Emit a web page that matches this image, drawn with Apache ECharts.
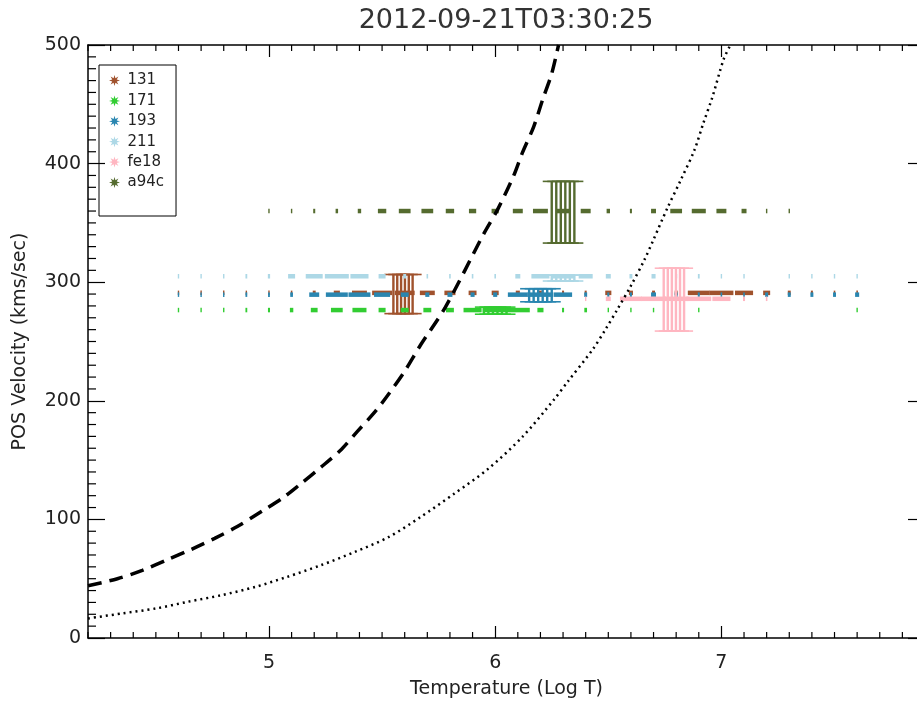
<!DOCTYPE html>
<html>
<head>
<meta charset="utf-8">
<script src="https://cdn.jsdelivr.net/npm/echarts@6/dist/echarts.min.js"></script>
<style>
html,body{margin:0;padding:0;background:#fff;}
#chart{width:917px;height:705px;}
</style>
</head>
<body>
<div id="chart"></div>
<script>
const channels = ["131", "171", "193", "211", "fe18", "a94c"]
const channelVel = [291, 276.5, 289.5, 305, 286, 360]
const channelColors = ["#a0522d", "#32cd32", "#2a86b0", "#add8e6", "#ffb6c1", "#556b2f"]

// temperature bins the marks sit on
const tempGrid = [4.6, 4.7, 4.8, 4.9, 5.0, 5.1, 5.2, 5.3, 5.4, 5.5,
                  5.6, 5.7, 5.8, 5.9, 6.0, 6.1, 6.2, 6.3, 6.4, 6.5,
                  6.6, 6.7, 6.8, 6.9, 7.0, 7.1, 7.2, 7.3, 7.4, 7.5, 7.6]

// share of each bin covered by the mark
const wt131 = [0.04,0.04,0.04,0.04,0.04,0.07,0.13,0.27,0.66,0.88,
               0.88,0.66,0.49,0.35,0.31,0.18,0.13,0.09,0.09,0.27,
               0.18,0.13,0.13,0.97,1.06,0.8,0.31,0.13,0.09,0.07,0.07]
const wt171 = [0.04,0.04,0.04,0.08,0.09,0.15,0.3,0.52,0.62,0.31,
               0.35,0.35,0.35,0.8,1.1,1.06,0.27,0.09,0.12,0.04,
               0.04,0.04,0.04,0.04,null,null,null,null,null,null,0.04]
const wt193 = [0.04,0.04,0.04,0.08,0.08,0.12,0.44,0.97,0.97,0.71,
               0.35,0.18,0.22,0.18,0.18,0.88,1.15,0.8,0.13,0.09,
               0.09,0.22,0.13,0.09,0.07,0.07,0.13,0.13,0.13,0.13,0.18]
const wt211 = [0.04,0.04,0.04,0.08,0.1,0.31,0.75,1.06,0.8,0.31,
               0.13,0.07,0.07,0.07,0.07,0.22,0.8,1.06,0.62,0.22,
               0.13,0.18,0.09,0.08,0.04,0.04,null,0.04,0.04,0.04,0.04]
const wtfe18 = [null,null,null,null,null,null,null,null,null,null,
                null,null,null,null,null,null,null,null,0.04,0.22,
                0.97,1.1,1.1,1.1,0.8,0.09,0.07,null,null,null,null]
const wta94c = [null,null,null,null,0.06,0.06,0.09,0.11,0.15,0.37,
                0.52,0.52,0.37,0.32,0.32,0.44,0.66,0.58,0.44,0.15,
                0.09,0.22,0.52,0.62,0.44,0.22,0.06,0.06,null,null,null]

// error bars
const ebT131 = [5.55, 5.567, 5.584, 5.601, 5.618, 5.635]
const ebT171 = [5.95, 5.97, 5.99, 6.01, 6.03, 6.05]
const ebT193 = [6.15, 6.17, 6.19, 6.21, 6.23, 6.25]
const ebT211 = [6.25, 6.27, 6.29, 6.31, 6.33, 6.35]
const ebTfe18 = [6.745, 6.763, 6.781, 6.799, 6.817, 6.835]
const ebTa94c = [6.25, 6.27, 6.29, 6.31, 6.33, 6.35]
const ebMid = [290, 276, 289, 303.5, 285.3, 359]
const ebErr = [16.5, 3, 5.5, 2.5, 26.5, 26]

// black curves
const dashT = [4.20, 4.33, 4.44, 4.55, 4.66, 4.76, 4.86, 4.97, 5.06, 5.14, 5.23, 5.32, 5.39,
               5.47, 5.53, 5.60, 5.67, 5.78, 5.95, 6.01, 6.08, 6.12, 6.17, 6.21, 6.25, 6.28]
const dashV = [44, 50, 57, 66, 75, 84, 94, 107, 118, 130, 144, 159, 174,
               191, 206, 225, 247, 279, 341, 361, 389, 409, 431, 454, 476, 500]
const dotT = [4.20, 4.35, 4.50, 4.64, 4.79, 4.94, 5.08, 5.23, 5.38, 5.53, 5.67, 5.82, 5.97, 6.12,
              6.26, 6.32, 6.43, 6.49, 6.54, 6.60, 6.66, 6.70, 6.76, 6.82, 6.88, 6.92, 6.96, 7.01, 7.04]
const dotV = [16.5, 20.7, 24.9, 30.5, 36.1, 43.1, 51.5, 61.4, 72.6, 85.2, 102, 121.8, 142.8, 169.5,
              201, 216, 243, 261, 277, 297, 319, 336, 362, 386, 411, 434, 456, 488, 500]

const xMajor = [5, 6, 7]
const yMajor = [0, 100, 200, 300, 400, 500]

const weights = [wt131, wt171, wt193, wt211, wtfe18, wta94c]
const ebT = [ebT131, ebT171, ebT193, ebT211, ebTfe18, ebTa94c]

const font = "DejaVu Sans"
const starIcon = "path://M100,50L70.3,41.6L85.4,14.6L58.4,29.7L50,0L41.6,29.7L14.6,14.6L29.7,41.6L0,50L29.7,58.4L14.6,85.4L41.6,70.3L50,100L58.4,70.3L85.4,85.4L70.3,58.4Z"

// tick slots: every 0.1 on x, every 10 on y
let xCats = []
for (let i = 0; i <= 37; i++) xCats.push((4.2 + i * 0.1).toFixed(1))
let yCats = []
for (let i = 0; i <= 50; i++) yCats.push(String(i * 10))
function isXMajor(index, value) { return xMajor.indexOf(Number(value)) >= 0 }
function isYMajor(index, value) { return yMajor.indexOf(Number(value)) >= 0 }

// minor ticks as [value, 0 = x axis / 1 = y axis]
let minorTicks = []
xCats.forEach(function (c) { if (!isXMajor(0, c)) minorTicks.push([Number(c), 0]) })
yCats.forEach(function (c) { if (!isYMajor(0, c)) minorTicks.push([Number(c), 1]) })

function tickItem(params, api) {
    const v = api.value(0)
    const st = { stroke: "#000", lineWidth: 1.2 }
    if (api.value(1) === 0) {
        const b = api.coord([v, 0]), t = api.coord([v, 500])
        return { type: "group", children: [
            { type: "line", shape: { x1: b[0], y1: b[1], x2: b[0], y2: b[1] - 6 }, style: st },
            { type: "line", shape: { x1: t[0], y1: t[1], x2: t[0], y2: t[1] + 6 }, style: st }
        ] }
    }
    const l = api.coord([4.2, v]), r = api.coord([7.9, v])
    return { type: "group", children: [
        { type: "line", shape: { x1: l[0], y1: l[1], x2: l[0] + 8, y2: l[1] }, style: st },
        { type: "line", shape: { x1: r[0], y1: r[1], x2: r[0] - 8, y2: r[1] }, style: st }
    ] }
}

function markItem(params, api) {
    const t = api.value(0), v = api.value(1), w = api.value(2)
    const a = api.coord([t - w * 0.05, v])
    const b = api.coord([t + w * 0.05, v])
    const wid = Math.max(b[0] - a[0], 1.4)
    const cx = (a[0] + b[0]) / 2
    return {
        type: "rect",
        shape: { x: cx - wid / 2, y: a[1] - 2.25, width: wid, height: 4.5 },
        style: { fill: api.visual("color") }
    }
}

function errItem(params, api) {
    const t = api.value(0), mid = api.value(1), err = api.value(2)
    const top = api.coord([t, mid + err])
    const bot = api.coord([t, mid - err])
    const col = api.visual("color")
    return {
        type: "group",
        children: [
            { type: "line", shape: { x1: top[0], y1: top[1], x2: bot[0], y2: bot[1] }, style: { stroke: col, lineWidth: 2.4 } },
            { type: "line", shape: { x1: top[0] - 9, y1: top[1], x2: top[0] + 9, y2: top[1] }, style: { stroke: col, lineWidth: 1.6 } },
            { type: "line", shape: { x1: bot[0] - 9, y1: bot[1], x2: bot[0] + 9, y2: bot[1] }, style: { stroke: col, lineWidth: 1.6 } }
        ]
    }
}

// minor ticks first, the way they rendered in the test page
let series = [{
    type: "custom", renderItem: tickItem, data: minorTicks, clip: false, silent: true,
    encode: { x: 0, y: -1 }, z: 5
}]
channels.forEach(function (ch, i) {
    let marks = []
    weights[i].forEach(function (w, k) {
        if (w !== null) marks.push([tempGrid[k], channelVel[i], w])
    })
    series.push({
        name: ch, type: "custom", renderItem: markItem, data: marks,
        encode: { x: 0, y: 1 }, itemStyle: { color: channelColors[i] }, clip: true, silent: true
    })
    series.push({
        name: ch, type: "custom", renderItem: errItem,
        data: ebT[i].map(function (t) { return [t, ebMid[i], ebErr[i]] }),
        encode: { x: 0, y: 1 }, itemStyle: { color: channelColors[i] }, clip: true, silent: true
    })
})

series.push({
    type: "line", data: dashT.map(function (t, k) { return [t, dashV[k]] }),
    symbol: "none", smooth: 0.3, clip: true, silent: true,
    lineStyle: { color: "#000", width: 3.5, type: [14, 8] }
})
series.push({
    type: "line", data: dotT.map(function (t, k) { return [t, dotV[k]] }),
    symbol: "none", smooth: 0.3, clip: true, silent: true,
    lineStyle: { color: "#000", width: 2.5, type: [2, 4] }
})

const textStyle = { fontFamily: font, fontSize: 19, color: "#222" }

// category axes carry the box, the major ticks and the labels
function tickAxis(cats, pos, len, every, labels) {
    return {
        type: "category", position: pos, data: cats, boundaryGap: false,
        axisLine: { show: true, onZero: false, lineStyle: { color: "#000", width: 1.5 } },
        axisTick: { show: true, inside: true, length: len, interval: every, lineStyle: { color: "#000", width: 1.2 } },
        axisLabel: Object.assign({ show: labels, interval: every }, textStyle),
        splitLine: { show: false }
    }
}

let xAxes = [
    { type: "value", min: 4.2, max: 7.9, show: false },
    tickAxis(xCats, "bottom", 12, isXMajor, true),
    tickAxis(xCats, "top", 12, isXMajor, false)
]
xAxes[1].axisLabel.margin = 16
xAxes[1].axisLabel.formatter = function (v) { return String(Number(v)) }
xAxes[1].name = "Temperature (Log T)"
xAxes[1].nameLocation = "middle"
xAxes[1].nameGap = 42
xAxes[1].nameTextStyle = textStyle

let yAxes = [
    { type: "value", min: 0, max: 500, show: false },
    tickAxis(yCats, "left", 17, isYMajor, true),
    tickAxis(yCats, "right", 17, isYMajor, false)
]
yAxes[1].axisLabel.margin = 7
yAxes[1].name = "POS Velocity (kms/sec)"
yAxes[1].nameLocation = "middle"
yAxes[1].nameRotate = 90
yAxes[1].nameGap = 58
yAxes[1].nameTextStyle = textStyle

let chart = echarts.init(document.getElementById("chart"))
chart.setOption({
    animation: false,
    title: {
        text: "2012-09-21T03:30:25", left: 506, top: 7, padding: 0, textAlign: "center",
        textStyle: { fontFamily: font, fontSize: 27, fontWeight: "normal", color: "#333" }
    },
    legend: {
        orient: "vertical", left: 99, top: 65, selectedMode: false,
        data: channels.map(function (ch) { return { name: ch, icon: starIcon } }),
        itemWidth: 16, itemHeight: 11, itemGap: 5.4,
        padding: [8, 12, 26, 10],
        borderColor: "#000", borderWidth: 1,
        textStyle: { fontFamily: font, fontSize: 15, lineHeight: 15, color: "#222" }
    },
    grid: { left: 88, top: 45, width: 837, height: 593, outerBoundsMode: "none", containLabel: false },
    xAxis: xAxes,
    yAxis: yAxes,
    series: series
})
</script>
</body>
</html>
